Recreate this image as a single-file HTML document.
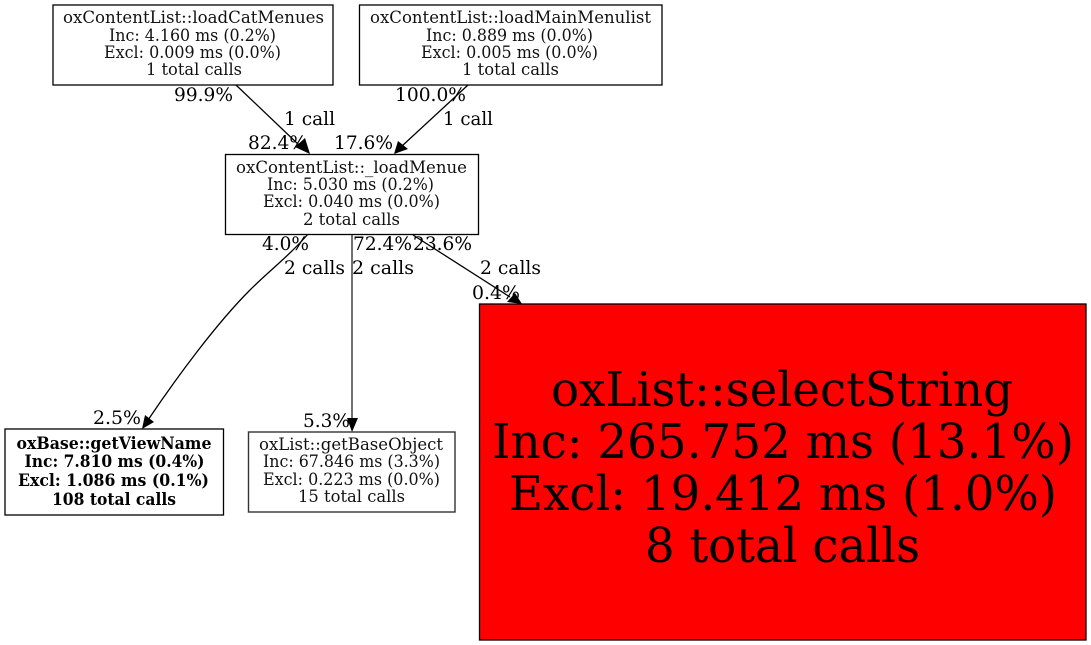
<!DOCTYPE html>
<html><head><meta charset="utf-8"><style>
html,body{margin:0;padding:0;background:#fff}
svg{display:block}
text{font-family:"DejaVu Serif",serif;fill:#000;white-space:pre}
.n{font-size:17px;fill:#111}
.b{font-size:17px;font-weight:700}
.e{font-size:19px}
.h{font-size:48px}
rect{stroke:#000;stroke-width:1.3}
.l{fill:none;stroke:#000;stroke-width:1.3}
</style></head><body>
<svg width="1091" height="645" viewBox="0 0 1091 645" xmlns="http://www.w3.org/2000/svg">
<rect x="0" y="0" width="1091" height="645" style="fill:#fff;stroke:none"/>
<!-- edges -->
<path class="l" d="M236,85 L300,146"/>
<polygon points="310,154 295,147 305,138"/>
<path class="l" d="M468,85 L402,146"/>
<polygon points="394,154 398,141 408,149"/>
<path class="l" d="M308,234 C290,255 268,272 250,290 C215,325 175,380 148,420"/>
<polygon points="142,429 145,415 154,422"/>
<path class="l" style="stroke:#333;stroke-width:1.4" d="M352,234 L352,420"/>
<polygon points="352,432 347,418 358,418"/>
<path class="l" d="M413,235 L510,297"/>
<polygon points="522,304 507,302 515,293"/>
<!-- nodes -->
<rect x="53" y="5" width="280" height="80" fill="#fff"/>
<text class="n" x="63" y="23" textLength="261" lengthAdjust="spacingAndGlyphs">oxContentList::loadCatMenues</text>
<text class="n" x="109" y="41" textLength="167" lengthAdjust="spacingAndGlyphs">Inc: 4.160 ms (0.2%)</text>
<text class="n" x="104" y="58" textLength="177" lengthAdjust="spacingAndGlyphs">Excl: 0.009 ms (0.0%)</text>
<text class="n" x="146" y="75" textLength="96" lengthAdjust="spacingAndGlyphs">1 total calls</text>

<rect x="359.500" y="5" width="302.500" height="80" fill="#fff"/>
<text class="n" x="370" y="23" textLength="281" lengthAdjust="spacingAndGlyphs">oxContentList::loadMainMenulist</text>
<text class="n" x="426" y="41" textLength="167" lengthAdjust="spacingAndGlyphs">Inc: 0.889 ms (0.0%)</text>
<text class="n" x="421" y="58" textLength="177" lengthAdjust="spacingAndGlyphs">Excl: 0.005 ms (0.0%)</text>
<text class="n" x="462" y="75" textLength="97" lengthAdjust="spacingAndGlyphs">1 total calls</text>

<rect x="225.500" y="154.500" width="253" height="80" fill="#fff"/>
<text class="n" x="236" y="173" textLength="231" lengthAdjust="spacingAndGlyphs">oxContentList::_loadMenue</text>
<text class="n" x="267" y="190" textLength="167" lengthAdjust="spacingAndGlyphs">Inc: 5.030 ms (0.2%)</text>
<text class="n" x="263" y="207" textLength="177" lengthAdjust="spacingAndGlyphs">Excl: 0.040 ms (0.0%)</text>
<text class="n" x="303" y="225" textLength="97" lengthAdjust="spacingAndGlyphs">2 total calls</text>

<rect x="5" y="429" width="218.500" height="86" fill="#fff"/>
<text class="b" x="16.500" y="449" textLength="195" lengthAdjust="spacingAndGlyphs">oxBase::getViewName</text>
<text class="b" x="24.500" y="467" textLength="180" lengthAdjust="spacingAndGlyphs">Inc: 7.810 ms (0.4%)</text>
<text class="b" x="18" y="486" textLength="191" lengthAdjust="spacingAndGlyphs">Excl: 1.086 ms (0.1%)</text>
<text class="b" x="52" y="505" textLength="124" lengthAdjust="spacingAndGlyphs">108 total calls</text>

<rect x="248.500" y="432" width="206.500" height="80" fill="#fff" style="stroke:#333;stroke-width:1.4"/>
<text class="n" x="259" y="450" textLength="184" lengthAdjust="spacingAndGlyphs">oxList::getBaseObject</text>
<text class="n" x="263" y="467" textLength="177" lengthAdjust="spacingAndGlyphs">Inc: 67.846 ms (3.3%)</text>
<text class="n" x="263" y="485" textLength="177" lengthAdjust="spacingAndGlyphs">Excl: 0.223 ms (0.0%)</text>
<text class="n" x="298" y="502" textLength="107" lengthAdjust="spacingAndGlyphs">15 total calls</text>

<rect x="479.500" y="304" width="606.500" height="336" fill="#ff0000"/>
<text class="h" x="551" y="406" textLength="462" lengthAdjust="spacingAndGlyphs">oxList::selectString</text>
<text class="h" x="492" y="458" textLength="582" lengthAdjust="spacingAndGlyphs">Inc: 265.752 ms (13.1%)</text>
<text class="h" x="509" y="510" textLength="548" lengthAdjust="spacingAndGlyphs">Excl: 19.412 ms (1.0%)</text>
<text class="h" x="645" y="562" textLength="275" lengthAdjust="spacingAndGlyphs">8 total calls</text>
<!-- edge labels -->
<text class="e" x="174" y="101" textLength="59" lengthAdjust="spacingAndGlyphs">99.9%</text>
<text class="e" x="284" y="125" textLength="51" lengthAdjust="spacingAndGlyphs">1 call</text>
<text class="e" x="248" y="149" textLength="59" lengthAdjust="spacingAndGlyphs">82.4%</text>
<text class="e" x="334" y="149" textLength="59" lengthAdjust="spacingAndGlyphs">17.6%</text>
<text class="e" x="395" y="101" textLength="71" lengthAdjust="spacingAndGlyphs">100.0%</text>
<text class="e" x="443" y="125" textLength="50" lengthAdjust="spacingAndGlyphs">1 call</text>
<text class="e" x="262" y="250" textLength="47" lengthAdjust="spacingAndGlyphs">4.0%</text>
<text class="e" x="284" y="274" textLength="61" lengthAdjust="spacingAndGlyphs">2 calls</text>
<text class="e" x="353" y="250" textLength="59" lengthAdjust="spacingAndGlyphs">72.4%</text>
<text class="e" x="352" y="274" textLength="62" lengthAdjust="spacingAndGlyphs">2 calls</text>
<text class="e" x="413" y="250" textLength="59" lengthAdjust="spacingAndGlyphs">23.6%</text>
<text class="e" x="480" y="274" textLength="61" lengthAdjust="spacingAndGlyphs">2 calls</text>
<text class="e" x="472" y="299" textLength="48" lengthAdjust="spacingAndGlyphs">0.4%</text>
<text class="e" x="93" y="424" textLength="48" lengthAdjust="spacingAndGlyphs">2.5%</text>
<text class="e" x="303" y="427" textLength="47" lengthAdjust="spacingAndGlyphs">5.3%</text>
</svg>
</body></html>
